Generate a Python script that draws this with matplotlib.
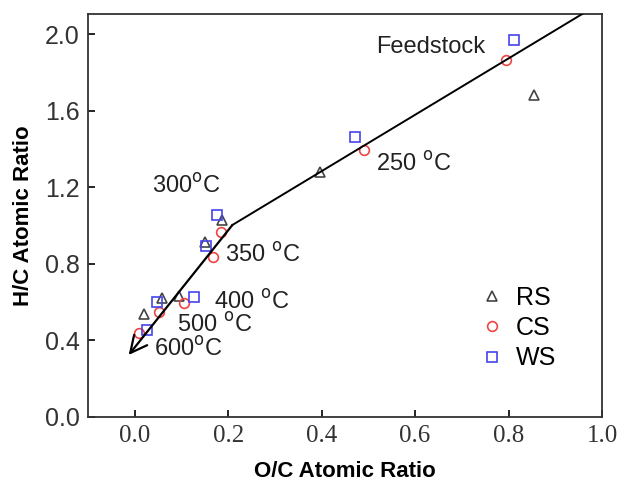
import matplotlib
matplotlib.use("Agg")
import matplotlib.pyplot as plt

plt.rcParams["font.family"] = ["Liberation Sans", "DejaVu Sans"]

# O/C, H/C per sample: Feedstock, 250, 300, 350, 400, 500, 600 C
rs_oc = [0.855, 0.396, 0.187, 0.150, 0.095, 0.059, 0.019]
rs_hc = [1.68, 1.28, 1.03, 0.915, 0.63, 0.62, 0.54]
cs_oc = [0.795, 0.491, 0.184, 0.168, 0.106, 0.051, 0.009]
cs_hc = [1.864, 1.394, 0.968, 0.837, 0.594, 0.55, 0.44]
ws_oc = [0.812, 0.471, 0.175, 0.153, 0.126, 0.048, 0.026]
ws_hc = [1.97, 1.462, 1.055, 0.893, 0.625, 0.60, 0.454]

# trend path: top end, kink, arrow tip
path_x = [0.959, 0.209, -0.013]
path_y = [2.107, 1.003, 0.324]

labels = ["Feedstock", "250 $^{\\rm o}$C", "300$^{\\rm o}$C", "350 $^{\\rm o}$C",
          "400 $^{\\rm o}$C", "500 $^{\\rm o}$C", "600$^{\\rm o}$C"]
label_x = [0.517, 0.516, 0.036, 0.193, 0.169, 0.090, 0.041]
label_y = [1.935, 1.32, 1.205, 0.845, 0.60, 0.48, 0.355]

fig = plt.figure(figsize=(6.2, 4.86), dpi=100)
ax = fig.add_axes([0.142, 0.142, 0.829, 0.830])

ax.plot(path_x[:2], path_y[:2], color="black", lw=1.4, zorder=3)
ax.annotate("", xy=(path_x[2], path_y[2]), xytext=(path_x[1], path_y[1]),
            arrowprops=dict(arrowstyle="->", color="black", lw=1.6,
                            mutation_scale=30, shrinkA=0, shrinkB=0), zorder=3)

ax.plot(rs_oc, rs_hc, ls="none", marker="^", ms=7, mfc="none", mec="#444444",
        mew=1.2, label="RS", zorder=2)
ax.plot(cs_oc, cs_hc, ls="none", marker="o", ms=7, mfc="none", mec="#ee4444",
        mew=1.2, label="CS", zorder=2)
ax.plot(ws_oc, ws_hc, ls="none", marker="s", ms=7, mfc="none", mec="#4444ee",
        mew=1.2, label="WS", zorder=2)

for t, x, y in zip(labels, label_x, label_y):
    ax.text(x, y, t, fontsize=17, color="#222222", va="center", ha="left")

ax.set_xlim(-0.1, 1.0)
ax.set_ylim(0, 2.107)
ax.set_xticks([0.0, 0.2, 0.4, 0.6, 0.8, 1.0])
ax.set_yticks([0.0, 0.4, 0.8, 1.2, 1.6, 2.0])
ax.set_xticklabels(["0.0", "0.2", "0.4", "0.6", "0.8", "1.0"],
                   family="Liberation Serif", fontsize=18, color="#333333")
ax.set_yticklabels(["0.0", "0.4", "0.8", "1.2", "1.6", "2.0"],
                   fontsize=18, color="#333333")
ax.tick_params(direction="in", length=5, width=1.2, pad=6)
for s in ax.spines.values():
    s.set_linewidth(1.3)
    s.set_color("#333333")

ax.set_xlabel("O/C Atomic Ratio", fontsize=16, fontweight="bold", labelpad=10)
ax.set_ylabel("H/C Atomic Ratio", fontsize=16, fontweight="bold", labelpad=8)

ax.legend(loc="lower right", bbox_to_anchor=(0.955, 0.06), frameon=False,
          fontsize=18, handlelength=1.0, handletextpad=0.45, labelspacing=0.25)

fig.savefig("out.png", dpi=100)
